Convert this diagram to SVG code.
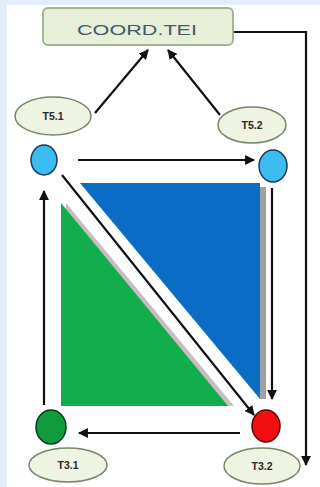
<svg xmlns="http://www.w3.org/2000/svg" width="320" height="487" viewBox="0 0 320 487">
<style>
.lbl{font-family:"Liberation Sans",Arial,sans-serif;font-weight:bold;font-size:10.5px;fill:#2a2a2a;text-anchor:middle}
.ell{fill:#eef3e2;stroke:#75866a;stroke-width:1.5}
.con{stroke:#111;stroke-width:2.2;fill:none}
</style>
<defs>
<marker id="ah" viewBox="0 0 10 10" refX="9" refY="5" markerWidth="4.5" markerHeight="4.5" orient="auto">
<path d="M0,0 L10,5 L0,10 z" fill="#111"/>
</marker>
</defs>
<rect x="0" y="0" width="320" height="487" fill="#e4eefb"/>
<rect x="7" y="5" width="313" height="482" fill="#ffffff"/>
<g id="triangles">
<polygon points="80,183 260,183 260,399" fill="#0a6cc4"/>
<rect x="260" y="187" width="6" height="212" fill="#a0a0a0"/>
<polygon points="66,203 234,406 66,406" fill="#cbbcc0"/>
<polygon points="61,203 228,406 61,406" fill="#12ad4c"/>
</g>
<g id="connectors">
<line class="con" x1="95" y1="113" x2="148" y2="50" marker-end="url(#ah)"/>
<line class="con" x1="220" y1="115" x2="168" y2="50" marker-end="url(#ah)"/>
<line class="con" x1="78" y1="160" x2="254" y2="160" marker-end="url(#ah)"/>
<line stroke="#ffffff" stroke-width="8" x1="60" y1="172" x2="252" y2="412"/>
<line class="con" x1="62" y1="175" x2="254" y2="415" marker-end="url(#ah)"/>
<line class="con" x1="272" y1="188" x2="272" y2="399" marker-end="url(#ah)"/>
<line class="con" x1="240" y1="433" x2="79" y2="433" marker-end="url(#ah)"/>
<line class="con" x1="44" y1="405" x2="44" y2="191" marker-end="url(#ah)"/>
<polyline class="con" points="234,32 306,32 306,465" marker-end="url(#ah)"/>
</g>
<g id="coord">
<rect x="43" y="8" width="190" height="37" rx="5" fill="#e7efd9" stroke="#a4b592" stroke-width="2"/>
<text x="137" y="35" font-family="'Liberation Sans',Arial,sans-serif" font-size="14" fill="#44586a" text-anchor="middle" textLength="120" lengthAdjust="spacingAndGlyphs">COORD.TEI</text>
</g>
<g id="t51">
<ellipse class="ell" cx="53" cy="116" rx="38" ry="19"/>
<text class="lbl" x="53" y="120">T5.1</text>
</g>
<g id="t52">
<ellipse class="ell" cx="252" cy="125" rx="34" ry="18"/>
<text class="lbl" x="252" y="129">T5.2</text>
</g>
<g id="n1">
<ellipse cx="44" cy="160" rx="13" ry="15" fill="#3cbcf0" stroke="#1a3a5a" stroke-width="1.5"/>
</g>
<g id="n2">
<ellipse cx="273" cy="166" rx="14" ry="16" fill="#3cbcf0" stroke="#1a3a5a" stroke-width="1.5"/>
</g>
<g id="n3">
<ellipse cx="51" cy="427" rx="15" ry="17" fill="#0e9c3c" stroke="#0a3a1a" stroke-width="1.5"/>
</g>
<g id="n4">
<ellipse cx="266" cy="426" rx="14" ry="16" fill="#f01010" stroke="#5a0a0a" stroke-width="1.5"/>
</g>
<g id="t31">
<ellipse class="ell" cx="68" cy="465" rx="39" ry="17"/>
<text class="lbl" x="68" y="469">T3.1</text>
</g>
<g id="t32">
<ellipse class="ell" cx="262" cy="466" rx="38" ry="18"/>
<text class="lbl" x="262" y="470">T3.2</text>
</g>
</svg>
